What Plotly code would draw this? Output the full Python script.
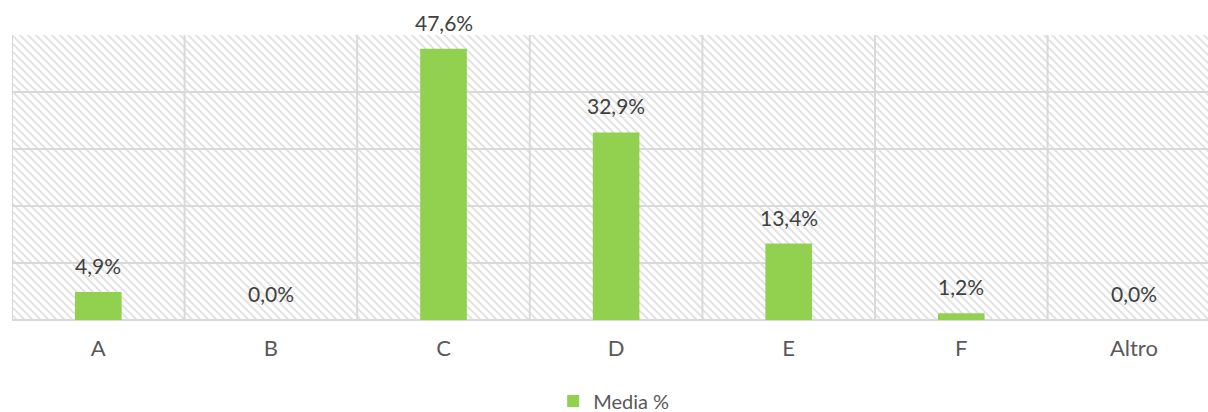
import base64
import plotly.graph_objects as go

categories = ["A", "B", "C", "D", "E", "F", "Altro"]
values = [4.9, 0.0, 47.6, 32.9, 13.4, 1.2, 0.0]
series_name = "Media %"
y_ticks = [0, 10, 20, 30, 40, 50]

W, H = 1208, 412
ML, MR, MT, MB = 12, 0, 35, 92
PW, PH = W - ML - MR, H - MT - MB
cat_px = 172.6
x_hi = -0.5 + PW / cat_px

GRID = "#d9d9d9"
FONT = "Lato, 'Gill Sans', 'Open Sans', sans-serif"

svg = f'''<svg xmlns="http://www.w3.org/2000/svg" width="{PW}" height="{PH}">
<defs><pattern id="p" width="8" height="8" patternUnits="userSpaceOnUse">
<path d="M0,0 L8,8 M-4,4 L4,12 M4,-4 L12,4" stroke="#e3e3e3" stroke-width="2"/>
</pattern></defs>
<rect width="100%" height="100%" fill="white"/>
<rect width="100%" height="100%" fill="url(#p)"/>
</svg>'''
src = "data:image/svg+xml;base64," + base64.b64encode(svg.encode()).decode()

xs = list(range(len(categories)))

fig = go.Figure()
fig.add_trace(go.Bar(
    x=xs, y=values, name=series_name, width=0.27,
    marker=dict(color="#92d050", line=dict(width=0)),
    showlegend=True,
))

annotations = []
for xi, v in zip(xs, values):
    annotations.append(dict(
        x=xi, y=v, xref="x", yref="y",
        text=f"{v:.1f}%".replace(".", ","),
        showarrow=False, yanchor="bottom", yshift=12,
        font=dict(family=FONT, size=21, color="#404040"),
    ))

shapes = []
for i in range(len(categories) + 1):
    shapes.append(dict(type="line", xref="x", yref="paper",
                       x0=i - 0.5, x1=i - 0.5, y0=0, y1=1,
                       line=dict(color=GRID, width=2), layer="below"))

fig.update_layout(
    width=W, height=H,
    margin=dict(l=ML, r=MR, t=MT, b=MB, pad=0, autoexpand=False),
    paper_bgcolor="white", plot_bgcolor="rgba(0,0,0,0)",
    separators=",.",
    font=dict(family=FONT, color="#595959"),
    xaxis=dict(range=[-0.5, x_hi], tickmode="array", tickvals=xs, ticktext=categories,
               showgrid=False, zeroline=False, showline=False,
               ticks="outside", ticklen=9, tickcolor="rgba(0,0,0,0)",
               tickfont=dict(family=FONT, size=22, color="#595959"), fixedrange=True),
    yaxis=dict(range=[0, 50], tickvals=y_ticks, showticklabels=False,
               showgrid=True, gridcolor=GRID, gridwidth=2,
               zeroline=True, zerolinecolor=GRID, zerolinewidth=2, fixedrange=True),
    legend=dict(orientation="h", xref="container", yref="container",
                x=0.508, xanchor="center", y=1 - 401 / H, yanchor="middle",
                font=dict(family=FONT, size=20, color="#595959"),
                itemwidth=30, bgcolor="rgba(0,0,0,0)"),
    annotations=annotations,
    shapes=shapes,
    images=[dict(source=src, xref="paper", yref="paper", x=0, y=1, sizex=1, sizey=1,
                 xanchor="left", yanchor="top", sizing="stretch", layer="below")],
)

fig.write_html(
    "out.html",
    config={"displayModeBar": False},
    post_script="document.body.style.margin='0';document.body.style.overflow='hidden';",
)
